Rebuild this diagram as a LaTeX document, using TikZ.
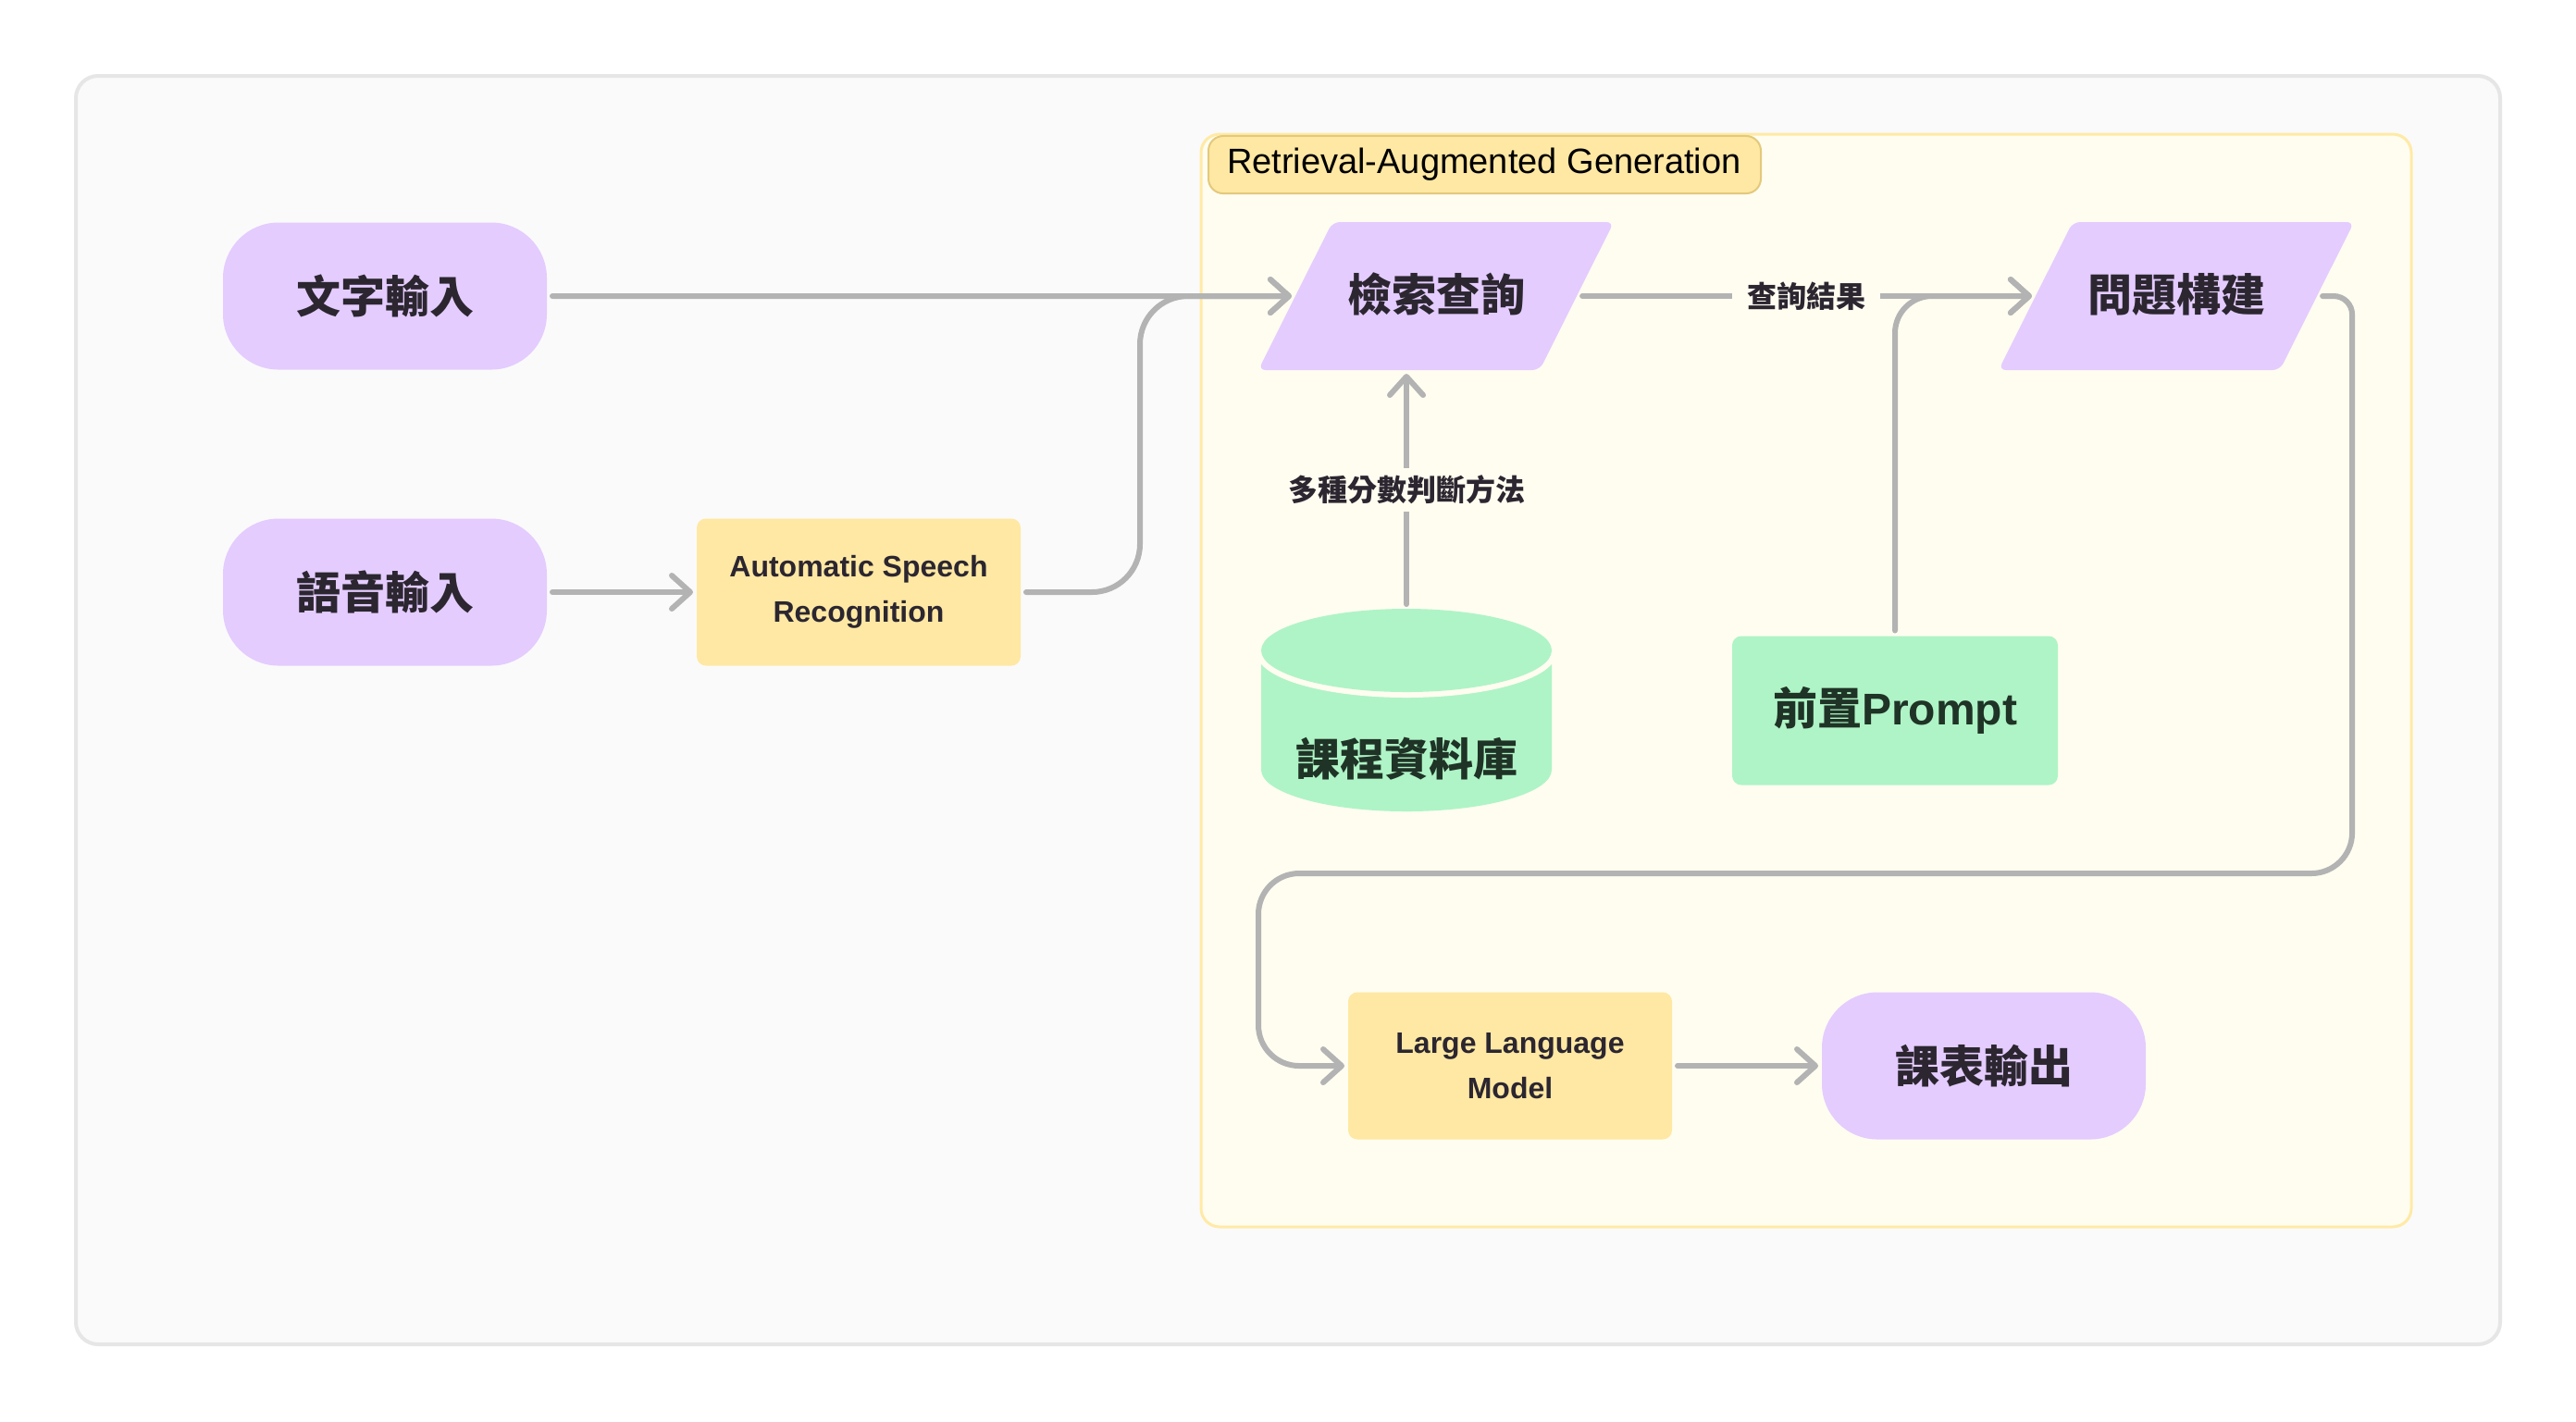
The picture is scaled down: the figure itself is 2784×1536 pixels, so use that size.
\documentclass[tikz,border=0pt]{standalone}
\usepackage{fontspec}
\setmainfont{Liberation Sans}
\newfontfamily\cjk{Noto Sans CJK TC}
\usetikzlibrary{shapes.geometric,arrows.meta}
\definecolor{frameBg}{HTML}{FAFAFA}
\definecolor{frameLine}{HTML}{E6E6E6}
\definecolor{ragBg}{HTML}{FFFDF0}
\definecolor{ragLine}{HTML}{FFEAA6}
\definecolor{tagLine}{HTML}{E3C97C}
\definecolor{lilac}{HTML}{E4CCFE}
\definecolor{sand}{HTML}{FFE8A3}
\definecolor{mint}{HTML}{AFF4C6}
\definecolor{wire}{HTML}{B3B3B3}
\definecolor{ink}{HTML}{2B2630}
\definecolor{inkGreen}{HTML}{1F3326}

\begin{document}
\begin{tikzpicture}[x=0.25pt, y=-0.25pt,
    io/.style={fill=lilac, rounded corners=15pt, minimum width=87.5pt, minimum height=39.75pt,
      outer sep=0pt, text=ink, font=\cjk\bfseries\fontsize{12}{14}\selectfont},
    proc/.style={fill=sand, rounded corners=2.5pt, minimum width=87.5pt, minimum height=39.75pt,
      outer sep=0pt, align=center, text=ink, font=\bfseries\fontsize{8}{12.25}\selectfont},
    data/.style={trapezium, trapezium left angle=63.4, trapezium right angle=116.6,
      fill=lilac, rounded corners=2pt, text width=48pt, text height=10pt, text depth=2pt,
      align=center, inner xsep=4pt, inner ysep=14pt, outer sep=0pt, text=ink,
      font=\cjk\bfseries\fontsize{12}{14}\selectfont},
    store/.style={fill=mint, rounded corners=2.5pt, minimum width=88pt, minimum height=40.25pt,
      outer sep=0pt, text=inkGreen, font=\bfseries\fontsize{12}{14}\selectfont},
    arr/.style={draw=wire, line width=1.5pt, line cap=round, shorten <=1.5pt, shorten >=1pt,
      -{Straight Barb[round, length=5pt, width=9pt]}},
    lbl/.style={fill=ragBg, text=ink, inner xsep=4pt, inner ysep=2pt,
      font=\cjk\bfseries\fontsize{8}{10}\selectfont}]
  \useasboundingbox (0,0) rectangle (2784,1536);
  \fill[white] (0,0) rectangle (2784,1536);
  \draw[frameLine, fill=frameBg, line width=1pt, rounded corners=6pt] (82,82) rectangle (2702,1453);
  \draw[ragLine, fill=ragBg, line width=0.75pt, rounded corners=5pt] (1298,145) rectangle (2606,1326);
  \node[fill=sand, draw=tagLine, line width=0.5pt, rounded corners=4pt, anchor=west,
    inner xsep=5pt, minimum height=13.5pt, text=black,
    font=\fontsize{9.5}{11}\selectfont] (ragTag) at (1305,178) {\makebox[139.25pt][l]{Retrieval-Augmented Generation}};

  \node[io] (txt)   at (416,320) {文字輸入};
  \node[io] (voice) at (416,640) {語音輸入};
  \node[proc] (asr) at (928,640) {Automatic Speech\\Recognition};

  \node[data] (query) at (1552,320) {檢索查詢};
  \node[data] (build) at (2352,320) {問題構建};

  % course database
  \coordinate (dbTop) at (1520,659);
  \fill[mint] (1363,703) -- (1363,832) arc[start angle=180, end angle=0, x radius=157, y radius=45] -- (1677,703) -- cycle;
  \draw[ragBg, line width=3pt] (1363,703) arc[start angle=180, end angle=0, x radius=157, y radius=45];
  \fill[mint] (1520,703) ellipse[x radius=157, y radius=45];
  \node[text=inkGreen, font=\cjk\bfseries\fontsize{12}{14}\selectfont] (db) at (1520,820) {課程資料庫};

  \node[store] (prompt) at (2048,768) {{\cjk 前置}Prompt};
  \node[proc] (llm) at (1632,1152) {Large Language\\Model};
  \node[io] (out) at (2144,1152) {課表輸出};

  \draw[arr] (txt.east) -- (query.west);
  \draw[arr] (voice.east) -- (asr.west);
  \draw[arr, rounded corners=13pt] (asr.east) -- ++(129,0) |- (query.west);
  \draw[arr] (dbTop) -- (dbTop |- query.south) node[lbl, midway] {多種分數判斷方法};
  \draw[arr] (query.east) -- (build.west) node[lbl, midway] {查詢結果};
  \draw[arr, rounded corners=10pt] (prompt.north) |- (build.west);
  \coordinate (loopL) at (1360,944);
  \draw[arr] (build.east) [rounded corners=5pt] -- ++(38,0) [rounded corners=11pt] |- (loopL) |- (llm.west);
  \draw[arr] (llm.east) -- (out.west);
\end{tikzpicture}
\end{document}
